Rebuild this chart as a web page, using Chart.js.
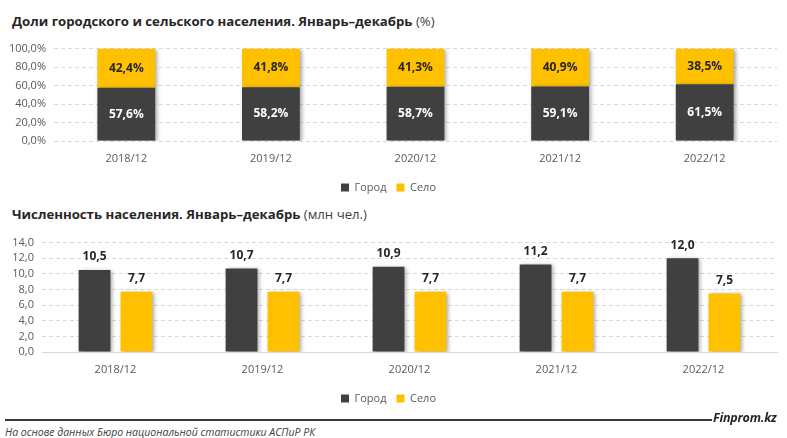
<!DOCTYPE html>
<html><head><meta charset="utf-8">
<script src="https://cdn.jsdelivr.net/npm/chart.js@4"></script>
<style>
body{margin:0;width:787px;height:438px;background:#fff;overflow:hidden;font-family:"Open Sans",sans-serif;position:relative}
.t{position:absolute;left:12px;font-size:13.2px;color:#262626;white-space:nowrap;line-height:16px}
.t b{font-weight:700}
.t span{color:#404040}
#c1w{position:absolute;left:0;top:34px;width:787px;height:171px}
#c2w{position:absolute;left:0;top:228px;width:787px;height:188px}
#line{position:absolute;left:5px;top:419px;width:707px;height:2px;background:#3a3a3a}
#brand{position:absolute;left:713px;top:410px;font-style:italic;font-weight:700;font-size:12.5px;color:#262626;line-height:16px;letter-spacing:-0.2px}
#src{position:absolute;left:5px;top:426px;font-style:italic;font-size:10.5px;color:#404040;line-height:13px}
</style></head>
<body>
<div class="t" style="top:13px"><b>Доли городского и сельского населения. Январь–декабрь</b> <span>(%)</span></div>
<div id="c1w"><canvas id="c1"></canvas></div>
<div class="t" style="top:206px"><b>Численность населения. Январь–декабрь</b> <span>(млн чел.)</span></div>
<div id="c2w"><canvas id="c2"></canvas></div>
<div id="line"></div>
<div id="brand">Finprom.kz</div>
<div id="src">На основе данных Бюро национальной статистики АСПиР РК</div>
<script>
const categories = ['2018/12','2019/12','2020/12','2021/12','2022/12'];
const seriesNames = ['Город','Село'];
const urbanShare = [57.6, 58.2, 58.7, 59.1, 61.5];
const ruralShare = [42.4, 41.8, 41.3, 40.9, 38.5];
const urbanPop = [10.5, 10.7, 10.9, 11.2, 12.0];
const ruralPop = [7.7, 7.7, 7.7, 7.7, 7.5];

const DARK = '#404040', YELLOW = '#FFC000';
const FONT = '"Open Sans", sans-serif';
const comma = (v, d) => v.toFixed(d).replace('.', ',');

const shadowPlugin = {
  id: 'shadow',
  beforeDatasetsDraw(chart) {
    const c = chart.ctx; c.save();
    c.shadowColor = 'rgba(0,0,0,0.35)'; c.shadowBlur = 4; c.shadowOffsetX = 2; c.shadowOffsetY = 1;
  },
  afterDatasetsDraw(chart) { chart.ctx.restore(); }
};
const labelPlugin = {
  id: 'vlabels',
  afterDatasetsDraw(chart, args, opts) {
    const c = chart.ctx; c.save();
    c.font = 'bold 12px ' + FONT; c.textAlign = 'center'; c.textBaseline = 'middle';
    chart.data.datasets.forEach((ds, i) => {
      chart.getDatasetMeta(i).data.forEach((bar, j) => {
        c.fillStyle = ds.labelColor;
        const y = opts.mode === 'center' ? (bar.y + bar.base) / 2 : bar.y - 13;
        c.fillText(opts.fmt(ds.data[j]), bar.x, y);
      });
    });
    c.restore();
  }
};

function common(yOpts, xBorder, leftW, xH) {
  return {
    responsive: true, maintainAspectRatio: false, animation: false,
    plugins: {
      legend: { position: 'bottom', labels: { boxWidth: 8, boxHeight: 8, padding: 10, color: '#595959', font: { family: FONT, size: 11 } } },
      tooltip: { enabled: false }
    },
    scales: {
      x: {
        grid: { display: false }, border: xBorder,
        ticks: { color: '#595959', font: { family: FONT, size: 11 }, padding: 3 },
        afterFit(s) { s.height = xH; }
      },
      y: Object.assign({
        grid: { color: '#d9d9d9', drawTicks: false },
        border: { display: false, dash: [4, 3] },
        afterFit(s) { s.width = leftW; }
      }, yOpts)
    }
  };
}

const o1 = common({
  stacked: true, min: 0, max: 100,
  ticks: { stepSize: 20, autoSkip: false, padding: 8, color: '#595959', font: { family: FONT, size: 11 }, callback: v => comma(v, 1) + '%' }
}, { display: false }, 54, 31);
o1.scales.x.stacked = true;
o1.layout = { padding: { top: 12, right: 10, bottom: 2 } };
o1.plugins.vlabels = { mode: 'center', fmt: v => comma(v, 1) + '%' };

new Chart(document.getElementById('c1'), {
  type: 'bar',
  data: { labels: categories, datasets: [
    { label: seriesNames[0], data: urbanShare, backgroundColor: DARK, labelColor: '#ffffff', barPercentage: 0.4, categoryPercentage: 1 },
    { label: seriesNames[1], data: ruralShare, backgroundColor: YELLOW, labelColor: '#262626', barPercentage: 0.4, categoryPercentage: 1 }
  ]},
  options: o1,
  plugins: [shadowPlugin, labelPlugin]
});

const o2 = common({
  min: 0, max: 14,
  ticks: { stepSize: 2, autoSkip: false, padding: 8, color: '#595959', font: { family: FONT, size: 11 }, callback: v => comma(v, 1) }
}, { display: true, color: '#d9d9d9' }, 42, 31);
o2.layout = { padding: { top: 14, right: 10, bottom: 2 } };
o2.plugins.vlabels = { mode: 'top', fmt: v => comma(v, 1) };

new Chart(document.getElementById('c2'), {
  type: 'bar',
  data: { labels: categories, datasets: [
    { label: seriesNames[0], data: urbanPop, backgroundColor: DARK, labelColor: '#262626', barPercentage: 0.76, categoryPercentage: 0.57 },
    { label: seriesNames[1], data: ruralPop, backgroundColor: YELLOW, labelColor: '#262626', barPercentage: 0.76, categoryPercentage: 0.57 }
  ]},
  options: o2,
  plugins: [shadowPlugin, labelPlugin]
});
</script>
</body></html>
